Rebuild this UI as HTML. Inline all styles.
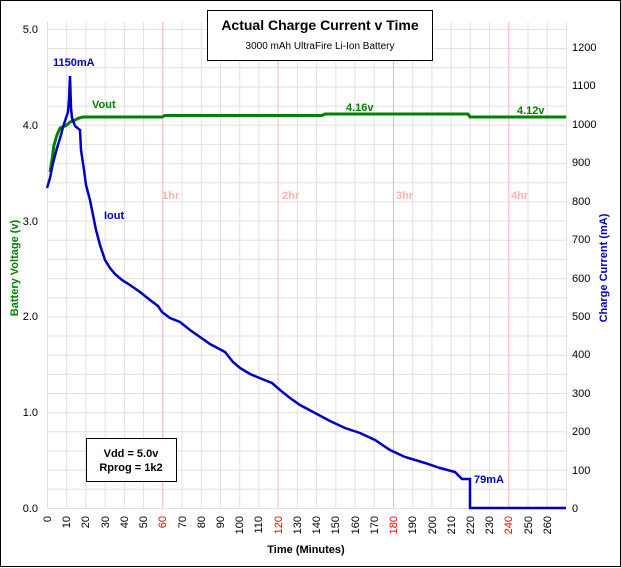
<!DOCTYPE html>
<html><head><style>body{margin:0;background:#fff}svg{display:block;font-family:"Liberation Sans",sans-serif}</style></head>
<body>
<svg width="621" height="568" viewBox="0 0 621 568">
<rect x="0.5" y="0.5" width="620" height="566" fill="#fff" stroke="#000"/>
<g stroke="#e0e0e0" stroke-width="1">
<!-- vertical grid -->
<g id="vg">
<line x1="47.5" y1="22" x2="47.5" y2="508"/><line x1="66.7" y1="22" x2="66.7" y2="508"/><line x1="85.9" y1="22" x2="85.9" y2="508"/><line x1="105.2" y1="22" x2="105.2" y2="508"/><line x1="124.4" y1="22" x2="124.4" y2="508"/><line x1="143.6" y1="22" x2="143.6" y2="508"/><line x1="182.0" y1="22" x2="182.0" y2="508"/><line x1="201.3" y1="22" x2="201.3" y2="508"/><line x1="220.5" y1="22" x2="220.5" y2="508"/><line x1="239.7" y1="22" x2="239.7" y2="508"/><line x1="258.9" y1="22" x2="258.9" y2="508"/><line x1="278.1" y1="22" x2="278.1" y2="508"/><line x1="297.4" y1="22" x2="297.4" y2="508"/><line x1="316.6" y1="22" x2="316.6" y2="508"/><line x1="335.8" y1="22" x2="335.8" y2="508"/><line x1="355.0" y1="22" x2="355.0" y2="508"/><line x1="374.2" y1="22" x2="374.2" y2="508"/><line x1="412.7" y1="22" x2="412.7" y2="508"/><line x1="431.9" y1="22" x2="431.9" y2="508"/><line x1="451.1" y1="22" x2="451.1" y2="508"/><line x1="470.3" y1="22" x2="470.3" y2="508"/><line x1="489.6" y1="22" x2="489.6" y2="508"/><line x1="528.0" y1="22" x2="528.0" y2="508"/><line x1="547.2" y1="22" x2="547.2" y2="508"/><line x1="566.4" y1="22" x2="566.4" y2="508"/>
</g>
<!-- horizontal grid every 0.2V -->
<line x1="47" y1="29.5" x2="566" y2="29.5"/><line x1="47" y1="48.6" x2="566" y2="48.6"/><line x1="47" y1="67.8" x2="566" y2="67.8"/><line x1="47" y1="87" x2="566" y2="87"/><line x1="47" y1="106.1" x2="566" y2="106.1"/><line x1="47" y1="125.3" x2="566" y2="125.3"/><line x1="47" y1="144.4" x2="566" y2="144.4"/><line x1="47" y1="163.6" x2="566" y2="163.6"/><line x1="47" y1="182.8" x2="566" y2="182.8"/><line x1="47" y1="201.9" x2="566" y2="201.9"/><line x1="47" y1="221.1" x2="566" y2="221.1"/><line x1="47" y1="240.2" x2="566" y2="240.2"/><line x1="47" y1="259.4" x2="566" y2="259.4"/><line x1="47" y1="278.6" x2="566" y2="278.6"/><line x1="47" y1="297.7" x2="566" y2="297.7"/><line x1="47" y1="316.9" x2="566" y2="316.9"/><line x1="47" y1="336" x2="566" y2="336"/><line x1="47" y1="355.2" x2="566" y2="355.2"/><line x1="47" y1="374.4" x2="566" y2="374.4"/><line x1="47" y1="393.5" x2="566" y2="393.5"/><line x1="47" y1="412.7" x2="566" y2="412.7"/><line x1="47" y1="431.8" x2="566" y2="431.8"/><line x1="47" y1="451" x2="566" y2="451"/><line x1="47" y1="470.2" x2="566" y2="470.2"/><line x1="47" y1="489.3" x2="566" y2="489.3"/><line x1="47" y1="508.5" x2="566" y2="508.5"/>
</g>
<g stroke="#ffb0b0"><line x1="162.8" y1="22" x2="162.8" y2="508"/><line x1="393.5" y1="22" x2="393.5" y2="508"/><line x1="278.1" y1="22" x2="278.1" y2="508" stroke="#ffc0c0"/><line x1="508.8" y1="22" x2="508.8" y2="508"/></g>
<g fill="#ffb0b0" font-size="11" font-weight="bold"><text x="162" y="199">1hr</text><text x="282" y="199">2hr</text><text x="396" y="199">3hr</text><text x="511" y="199">4hr</text></g>
<rect x="207.5" y="10.5" width="225" height="50" fill="#fff" stroke="#000"/>
<text x="320" y="30" text-anchor="middle" font-size="14" font-weight="bold">Actual Charge Current v Time</text>
<text x="320" y="49" text-anchor="middle" font-size="10">3000 mAh UltraFire Li-Ion Battery</text>
<!-- left axis labels -->
<g font-size="11" text-anchor="end"><text x="38" y="33">5.0</text><text x="38" y="129">4.0</text><text x="38" y="225">3.0</text><text x="38" y="320">2.0</text><text x="38" y="416">1.0</text><text x="38" y="512">0.0</text></g>
<g font-size="11" text-anchor="start"><text x="572" y="51">1200</text><text x="572" y="89">1100</text><text x="572" y="128">1000</text><text x="572" y="166">900</text><text x="572" y="205">800</text><text x="572" y="243">700</text><text x="572" y="282">600</text><text x="572" y="320">500</text><text x="572" y="358">400</text><text x="572" y="397">300</text><text x="572" y="435">200</text><text x="572" y="474">100</text><text x="572" y="512">0</text></g>
<g font-size="11">
<text transform="translate(51,516) rotate(-90)" text-anchor="end">0</text><text transform="translate(70,516) rotate(-90)" text-anchor="end">10</text><text transform="translate(89,516) rotate(-90)" text-anchor="end">20</text><text transform="translate(109,516) rotate(-90)" text-anchor="end">30</text><text transform="translate(128,516) rotate(-90)" text-anchor="end">40</text><text transform="translate(147,516) rotate(-90)" text-anchor="end">50</text><text transform="translate(166,516) rotate(-90)" text-anchor="end" fill="#f00">60</text><text transform="translate(186,516) rotate(-90)" text-anchor="end">70</text><text transform="translate(205,516) rotate(-90)" text-anchor="end">80</text><text transform="translate(224,516) rotate(-90)" text-anchor="end">90</text><text transform="translate(243,516) rotate(-90)" text-anchor="end">100</text><text transform="translate(262,516) rotate(-90)" text-anchor="end">110</text><text transform="translate(282,516) rotate(-90)" text-anchor="end" fill="#f00">120</text><text transform="translate(301,516) rotate(-90)" text-anchor="end">130</text><text transform="translate(320,516) rotate(-90)" text-anchor="end">140</text><text transform="translate(339,516) rotate(-90)" text-anchor="end">150</text><text transform="translate(359,516) rotate(-90)" text-anchor="end">160</text><text transform="translate(378,516) rotate(-90)" text-anchor="end">170</text><text transform="translate(397,516) rotate(-90)" text-anchor="end" fill="#f00">180</text><text transform="translate(416,516) rotate(-90)" text-anchor="end">190</text><text transform="translate(436,516) rotate(-90)" text-anchor="end">200</text><text transform="translate(455,516) rotate(-90)" text-anchor="end">210</text><text transform="translate(474,516) rotate(-90)" text-anchor="end">220</text><text transform="translate(493,516) rotate(-90)" text-anchor="end">230</text><text transform="translate(512,516) rotate(-90)" text-anchor="end" fill="#f00">240</text><text transform="translate(532,516) rotate(-90)" text-anchor="end">250</text><text transform="translate(551,516) rotate(-90)" text-anchor="end">260</text>
</g>
<text x="306" y="553" text-anchor="middle" font-size="11" font-weight="bold">Time (Minutes)</text>
<text transform="translate(18,268) rotate(-90)" text-anchor="middle" font-size="11" font-weight="bold" fill="#008000">Battery Voltage (v)</text>
<text transform="translate(607,268) rotate(-90)" text-anchor="middle" font-size="11" font-weight="bold" fill="#0000c0">Charge Current (mA)</text>
<!-- Vout -->
<polyline fill="none" stroke="#008000" stroke-width="3" points="50,172 52,160 54,145 57,135 60,128 65,126 68,124 70,122 75,120 79,118 83,117 162,117 165,115.5 322,115.5 325,114 468,114 470,117 566,117"/>
<!-- Iout -->
<polyline fill="none" stroke="#0000c0" stroke-width="2.5" points="47,188 50,178 53,163 57,148 61,135 63,127 66,118 68,112 69,100 70,76 71,108 72,118 75,126 80,130 81,150 84,170 86,185 90,200 93,215 96,230 100,245 105,260 110,268 115,274 122,280 130,285 140,292 150,300 158,306 162,312 170,318 180,322 190,330 200,337 210,344 225,352 233,362 240,368 250,374 262,379 272,383 280,390 290,398 300,405 315,413 330,421 345,428 360,433 375,440 390,450 405,457 425,463 440,468 455,472 462,479 470,479 470,508 566,508"/>
<g font-size="11" font-weight="bold">
<text x="53" y="66" fill="#0000c0">1150mA</text>
<text x="92" y="108" fill="#008000">Vout</text>
<text x="104" y="219" fill="#0000c0">Iout</text>
<text x="346" y="111" fill="#008000">4.16v</text>
<text x="517" y="114" fill="#008000">4.12v</text>
<text x="474" y="483" fill="#0000c0">79mA</text>
</g>
<rect x="86.5" y="438.5" width="90" height="43" fill="#fff" stroke="#000"/>
<text x="131" y="457" text-anchor="middle" font-size="11" font-weight="bold">Vdd = 5.0v</text>
<text x="131" y="471" text-anchor="middle" font-size="11" font-weight="bold">Rprog = 1k2</text>
</svg>
</body></html>
